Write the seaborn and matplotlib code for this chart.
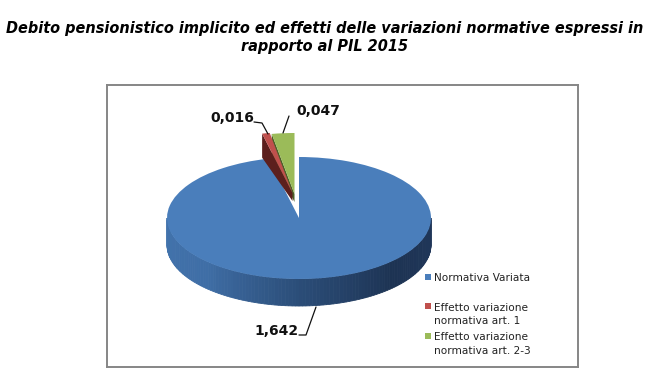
import numpy as np
import matplotlib
matplotlib.use("Agg")
import matplotlib.pyplot as plt
from matplotlib.legend_handler import HandlerPatch
from matplotlib.patches import Wedge
import seaborn as sns

TITLE = ["Debito pensionistico implicito ed effetti delle variazioni normative espressi in",
         "rapporto al PIL 2015"]
LABELS = ["Normativa Variata\n", "Effetto variazione\nnormativa art. 1", "Effetto variazione\nnormativa art. 2-3"]
VALUES = [1.642, 0.016, 0.047]
VALUE_TEXT = ["1,642", "0,016", "0,047"]
COLORS = ["#4a7ebb", "#c0504d", "#9bbb59"]
WALLS = ["#2f5480", "#5c1f1d", "#4c5f27"]

W, H = 657, 392
# pixel layout of the pie
CX, CY, RX, RY = 299, 218, 132, 61
DEPTH = 27 / RY

sns.set_theme(style="white")
plt.rcParams['font.family'] = ['DejaVu Sans']

fig = plt.figure(figsize=(W / 100, H / 100), dpi=100, facecolor="white")
fl, ft, fr, fb = 107, 85, 578, 367
ax = fig.add_axes([fl / W, 1 - fb / H, (fr - fl) / W, (fb - ft) / H])

wedges, _ = ax.pie(VALUES, colors=COLORS, startangle=90, counterclock=False,
                   wedgeprops={"linewidth": 0})
ax.set_aspect("auto")
ax.set_frame_on(True)
ax.set_xlim((fl - CX) / RX, (fr - CX) / RX)
ax.set_ylim((CY - fb) / RY, (CY - ft) / RY)
ax.set_xticks([])
ax.set_yticks([])
for s in ax.spines.values():
    s.set_visible(True)
    s.set_color("#868686")
    s.set_linewidth(1.4)


def px(dx, dy):
    return dx / RX, -dy / RY


def pt(theta):
    return np.sin(np.radians(theta)), np.cos(np.radians(theta))


# clockwise angle of slice edges, from 12 o'clock
edges = np.concatenate([[0], np.cumsum(VALUES)]) / np.sum(VALUES) * 360

# front rim of the big slice, shaded from left to right
ramp = sns.blend_palette(["#20375a", "#1d3353", "#2b4d78", "#3f6ea6", "#4273ac"], 120)
rim = np.linspace(90, 270, 121)
for i in range(120):
    a = rim[i:i + 2]
    xs = np.sin(np.radians(a))
    ys = np.cos(np.radians(a))
    ax.fill(np.r_[xs, xs[::-1]], np.r_[ys, ys[::-1] - DEPTH],
            color=ramp[i], lw=0.6, zorder=1)
wedges[0].set_zorder(2)

# small slices are pulled out of the pie, green goes under red
offsets = {2: (-4.5, -24), 1: (-6.5, -25)}
for z, idx in enumerate([2, 1]):
    ox, oy = px(*offsets[idx])
    wedges[idx].set_center((ox, oy))
    wedges[idx].set_zorder(4 + 2 * z)
    ex, ey = pt(edges[idx])
    ax.fill([ox, ox + ex, ox + ex, ox], [oy, oy + ey, oy + ey - 24 / RY, oy - 8 / RY],
            color=WALLS[idx], lw=0, zorder=3 + 2 * z)

# value labels with leader lines
lbl = dict(fontsize=10, fontweight="bold", color="#111111", zorder=10)
lines = [([299, 306, 316], [335, 335, 307]),
         ([254, 262, 268], [122, 123, 134]),
         ([289, 283], [116, 133])]
spots = [(254, 331), (210, 118), (296, 111)]
for txt, (lx, ly), (tx, ty) in zip(VALUE_TEXT, lines, spots):
    ax.plot((np.array(lx) - CX) / RX, (CY - np.array(ly)) / RY, color="#111111", lw=0.9, zorder=9)
    ax.text((tx - CX) / RX, (CY - ty) / RY, txt, ha="left", va="center", **lbl)

fig.text(0.5 - 4 / W, 1 - 28 / H, TITLE[0], ha="center", va="center",
         fontsize=10.45, fontweight="bold", fontstyle="italic", color="black")
fig.text(0.5 - 4 / W, 1 - 46 / H, TITLE[1], ha="center", va="center",
         fontsize=10.45, fontweight="bold", fontstyle="italic", color="black")


def square_handle(legend, orig_handle, xdescent, ydescent, width, height, fontsize):
    # keep the square on the first text line
    return plt.Rectangle((-xdescent, -ydescent + 6.5), width, width)


leg = ax.legend(wedges, LABELS, loc="upper left",
                bbox_to_anchor=((417.5 - fl) / (fr - fl), 1 - (266 - ft) / (fb - ft)),
                frameon=False, fontsize=7.6, handlelength=0.57, handleheight=0.7, handletextpad=0.3,
                labelspacing=0.54, borderpad=0.2, labelcolor="#222222",
                handler_map={Wedge: HandlerPatch(patch_func=square_handle)})
for t in leg.get_texts():
    t.set_linespacing(1.45)

fig.savefig("out.png", dpi=100)
